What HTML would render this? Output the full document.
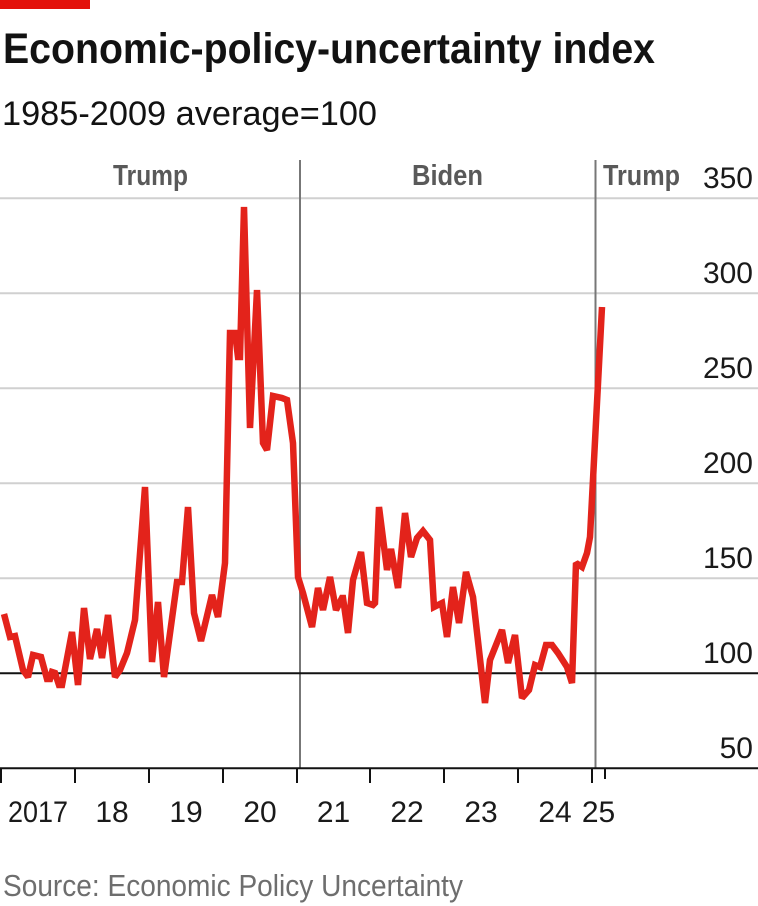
<!DOCTYPE html>
<html>
<head>
<meta charset="utf-8">
<style>
  html, body { margin: 0; padding: 0; background: #ffffff; }
  body { width: 758px; height: 906px; overflow: hidden; }
  svg { display: block; }
  text { font-family: "Liberation Sans", "DejaVu Sans", sans-serif; }
</style>
</head>
<body>
<svg width="758" height="906" viewBox="0 0 758 906" xmlns="http://www.w3.org/2000/svg">
  <rect x="0" y="0" width="758" height="906" fill="#ffffff"/>
  <!-- red top bar -->
  <rect x="0" y="0" width="90" height="9" fill="#e3120b"/>

  <!-- title & subtitle -->
  <text x="3" y="63" font-size="43" font-weight="bold" fill="#121212" textLength="652" lengthAdjust="spacingAndGlyphs">Economic-policy-uncertainty index</text>
  <text x="2" y="125" font-size="34" fill="#121212" textLength="375" lengthAdjust="spacingAndGlyphs">1985-2009 average=100</text>

  <!-- gridlines -->
  <g stroke="#d0d0d0" stroke-width="2">
    <line x1="0" y1="198.3" x2="758" y2="198.3"/>
    <line x1="0" y1="293.3" x2="758" y2="293.3"/>
    <line x1="0" y1="388.3" x2="758" y2="388.3"/>
    <line x1="0" y1="483.3" x2="758" y2="483.3"/>
    <line x1="0" y1="578.3" x2="758" y2="578.3"/>
  </g>

  <!-- y labels -->
  <g font-size="30" fill="#1a1a1a" text-anchor="end">
    <text x="753" y="188">350</text>
    <text x="753" y="283">300</text>
    <text x="753" y="378">250</text>
    <text x="753" y="473">200</text>
    <text x="753" y="568">150</text>
    <text x="753" y="663">100</text>
    <text x="753" y="758">50</text>
  </g>

  <!-- president labels -->
  <g font-size="29" font-weight="bold" fill="#595959">
    <text x="113" y="185" textLength="75" lengthAdjust="spacingAndGlyphs">Trump</text>
    <text x="412" y="185" textLength="71" lengthAdjust="spacingAndGlyphs">Biden</text>
    <text x="603" y="185" textLength="77" lengthAdjust="spacingAndGlyphs">Trump</text>
  </g>

  <!-- president divider lines -->
  <g stroke="#777777" stroke-width="2">
    <line x1="300" y1="160" x2="300" y2="768"/>
    <line x1="595.5" y1="160" x2="595.5" y2="768"/>
  </g>

  <!-- 100 baseline -->
  <line x1="0" y1="673.3" x2="758" y2="673.3" stroke="#121212" stroke-width="2"/>

  <!-- data line -->
  <polyline fill="none" stroke="#e3231b" stroke-width="6.5" stroke-linejoin="miter" stroke-miterlimit="2" stroke-linecap="butt"
    points="4,614 10,637 15,636 23,670 28,677 33,655 41,657 47,679 50,679 52,672 55,673 59,685 62,685 72,632 78,685 84,608 90,659 97,629 102,658 108,615 115,677 120,670 127,653 135,620 145,487 152,662 158,602 164,677 177,582 182,582 188,507 194,613 201,641 212,595 218,617 225,563 230,333 235,333 238,357 240,357 244,207 250,428 257,290 263,443 267,450 273,396 282,398 287,400 293,443 298,577 303,593 312,627 318,588 323,610 330,577 336,610 342,598 343,598 348,633 353,580 361,552 367,603 373,605 375,603 379,507 387,570 391,549 398,588 405,513 411,557 417,538 423,531 430,540 434,607 442,603 447,637 453,587 459,623 466,572 473,597 485,703 490,660 502,630 508,663 515,635 522,698 529,690 535,665 540,667 546,645 552,645 558,653 567,667 572,683 576,563 582,567 587,553 590,537 602,307"/>

  <!-- x axis -->
  <line x1="0" y1="768.3" x2="758" y2="768.3" stroke="#121212" stroke-width="2"/>
  <g stroke="#121212" stroke-width="2">
    <line x1="1" y1="768" x2="1" y2="783"/>
    <line x1="75" y1="768" x2="75" y2="783"/>
    <line x1="149" y1="768" x2="149" y2="783"/>
    <line x1="223" y1="768" x2="223" y2="783"/>
    <line x1="297" y1="768" x2="297" y2="783"/>
    <line x1="370" y1="768" x2="370" y2="783"/>
    <line x1="444" y1="768" x2="444" y2="783"/>
    <line x1="518" y1="768" x2="518" y2="783"/>
    <line x1="592" y1="768" x2="592" y2="783"/>
    <line x1="605" y1="768" x2="605" y2="779"/>
  </g>

  <!-- x labels -->
  <g font-size="30" fill="#1a1a1a" text-anchor="middle">
    <text x="38" y="822" textLength="60" lengthAdjust="spacingAndGlyphs">2017</text>
    <text x="112" y="822">18</text>
    <text x="186" y="822">19</text>
    <text x="260" y="822">20</text>
    <text x="333.5" y="822">21</text>
    <text x="407" y="822">22</text>
    <text x="481" y="822">23</text>
    <text x="555" y="822">24</text>
    <text x="598.5" y="822">25</text>
  </g>

  <!-- source -->
  <text x="3" y="896" font-size="31" fill="#6e6e6e" textLength="460" lengthAdjust="spacingAndGlyphs">Source: Economic Policy Uncertainty</text>
</svg>
</body>
</html>
